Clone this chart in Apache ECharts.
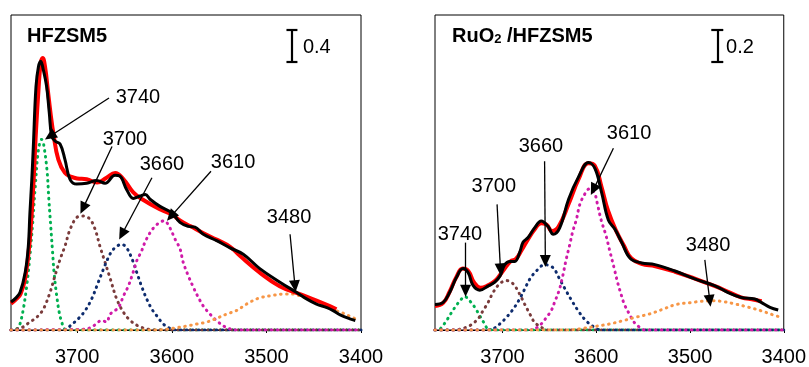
<!DOCTYPE html>
<html><head><meta charset="utf-8">
<script src="https://cdn.jsdelivr.net/npm/echarts@6/dist/echarts.min.js"></script>
<style>html,body{margin:0;padding:0;background:#fff}#c{width:809px;height:367px}</style>
</head><body><div id="c"></div>
<script>
// ---------- data ----------
const xTicks = [3700, 3600, 3500, 3400];
const panelTitles = ['HFZSM5', 'RuO2 /HFZSM5'];
const scaleLabels = ['0.4', '0.2'];
const peakLabels = ['3740', '3700', '3660', '3610', '3480'];

// Left panel: HFZSM5  [wavenumber, absorbance]
const hfExp = [[3770,0.35],[3765,0.40],[3760.5,0.47],[3755,0.72],[3751.7,1.05],[3750,1.47],[3748,1.89],[3746.4,2.30],[3743.6,3.05],[3741,3.30],[3738.6,3.37],[3735.8,3.26],[3732.3,3.05],[3729.5,2.72],[3727,2.43],[3723.5,2.37],[3718,2.33],[3713,2.14],[3707.6,1.89],[3700.6,1.83],[3690,1.84],[3679.4,1.875],[3670.6,1.84],[3660,1.94],[3655,1.93],[3647.7,1.76],[3640.7,1.65],[3633.6,1.68],[3628,1.70],[3623,1.64],[3612.5,1.55],[3600,1.47],[3591.4,1.35],[3582.6,1.30],[3575.5,1.29],[3566.7,1.20],[3552.6,1.12],[3538.5,1.03],[3524.5,0.95],[3507,0.77],[3485.7,0.60],[3468,0.47],[3457.5,0.39],[3447,0.325],[3436,0.28],[3429,0.24],[3422,0.19],[3411.7,0.14],[3406,0.12]];
const hfFit = [[3770,0.33],[3765,0.38],[3760,0.45],[3755,0.65],[3750,1.15],[3746,1.9],[3744,2.4],[3741,3.0],[3738.5,3.35],[3736.5,3.41],[3734,3.3],[3731,3.0],[3728,2.7],[3725,2.45],[3720,2.14],[3713,1.97],[3706,1.92],[3700,1.90],[3690,1.89],[3679,1.85],[3669,1.91],[3660,1.97],[3651,1.89],[3641,1.73],[3630,1.63],[3612,1.51],[3600,1.45],[3591,1.37],[3580,1.30],[3566,1.21],[3552,1.13],[3538,1.04],[3528,0.93],[3507,0.72],[3486,0.55],[3464.5,0.45],[3447,0.37],[3433,0.30],[3426,0.26]];
const hfG3740 = [[3770,0],[3763,0.02],[3760.5,0.075],[3757,0.26],[3753.4,0.55],[3750,0.93],[3747,1.35],[3744.6,1.76],[3741,2.26],[3737.6,2.39],[3735.8,2.35],[3732,2.01],[3730,1.64],[3728,1.30],[3726,0.97],[3724.5,0.72],[3721.7,0.43],[3719,0.22],[3716.4,0.10],[3713,0.01],[3705,0],[3400,0]];
const hfG3700 = [[3770,0],[3758.7,0.03],[3750,0.10],[3742.8,0.16],[3735.9,0.26],[3728.8,0.47],[3723.5,0.68],[3718,0.89],[3713,1.05],[3707.6,1.26],[3700.6,1.41],[3693.6,1.43],[3686.5,1.39],[3681,1.26],[3676,1.05],[3670.6,0.85],[3665,0.64],[3658.3,0.39],[3651,0.22],[3644,0.12],[3635.4,0.05],[3625,0.01],[3615,0],[3400,0]];
const hfG3660 = [[3770,0],[3713,0],[3707.6,0.05],[3699,0.14],[3691.8,0.24],[3684.7,0.39],[3677.7,0.60],[3672.4,0.76],[3667,0.91],[3662,1.01],[3653,1.075],[3647.7,1.03],[3640.7,0.85],[3637,0.72],[3632,0.55],[3626.6,0.39],[3621,0.26],[3616,0.18],[3609,0.075],[3602,0.02],[3595,0],[3400,0]];
const hfG3610 = [[3770,0],[3691,0.01],[3683,0.05],[3674,0.12],[3669,0.10],[3665,0.20],[3656.6,0.28],[3651,0.43],[3646,0.55],[3641,0.72],[3637,0.87],[3632,0.99],[3628.4,1.10],[3623,1.22],[3617.8,1.30],[3612.5,1.35],[3608,1.37],[3602,1.28],[3596.6,1.14],[3591.4,1.02],[3588,0.85],[3582.6,0.68],[3577,0.53],[3572,0.41],[3566.7,0.30],[3559.7,0.20],[3551,0.10],[3542,0.03],[3532,0],[3400,0]];
const hfG3480 = [[3770,0],[3620,0],[3605,0.01],[3595,0.03],[3584,0.05],[3573.7,0.075],[3563,0.10],[3552.6,0.146],[3542,0.20],[3531.4,0.245],[3521,0.325],[3508,0.40],[3495,0.43],[3482,0.45],[3471.6,0.45],[3461,0.41],[3452,0.37],[3443.4,0.325],[3434.6,0.28],[3425.7,0.24],[3418.7,0.21],[3406,0.14]];

// Right panel: RuO2/HFZSM5
const ruExp = [[3772,0.16],[3763.3,0.173],[3756.4,0.235],[3749.1,0.33],[3742.1,0.385],[3736.7,0.36],[3731.4,0.28],[3724.2,0.25],[3715.5,0.275],[3708.2,0.30],[3702.5,0.34],[3697.6,0.41],[3692.2,0.43],[3686.9,0.43],[3681.7,0.486],[3678.1,0.55],[3672.7,0.58],[3665.8,0.64],[3658.6,0.683],[3651.5,0.65],[3645.9,0.60],[3639,0.64],[3629.5,0.82],[3618.9,0.96],[3608.3,1.05],[3601.2,1.01],[3594.2,0.86],[3587.1,0.69],[3579.9,0.63],[3572.9,0.55],[3563.9,0.45],[3551.6,0.42],[3537.4,0.41],[3516,0.37],[3494.9,0.32],[3473.3,0.277],[3459.4,0.235],[3445.3,0.204],[3431,0.194],[3424,0.173],[3414.7,0.142],[3405.9,0.125]];
const ruFit = [[3772,0.15],[3763.3,0.17],[3756.4,0.24],[3749.4,0.33],[3742.4,0.385],[3736.5,0.37],[3730.5,0.30],[3723.5,0.265],[3715.5,0.28],[3707.5,0.31],[3699.6,0.37],[3691.6,0.43],[3685.7,0.445],[3679.7,0.50],[3672.7,0.57],[3665.8,0.63],[3658.9,0.67],[3653,0.66],[3647,0.62],[3640,0.65],[3629.5,0.79],[3618.5,0.95],[3608.5,1.045],[3601.5,1.03],[3594.5,0.90],[3587.5,0.75],[3578.6,0.62],[3570.6,0.53],[3562.7,0.45],[3551.8,0.415],[3536.9,0.40],[3516,0.365],[3494.2,0.32],[3473.3,0.275],[3459.4,0.24],[3445.5,0.205],[3431.5,0.19],[3423.6,0.18]];
const ruG3740 = [[3772,0],[3768.3,0],[3765,0.017],[3759.8,0.058],[3754.3,0.11],[3749.1,0.156],[3743.8,0.194],[3740.4,0.21],[3735,0.183],[3729.5,0.142],[3724.3,0.09],[3719,0.0375],[3715.5,0.006],[3708,0],[3400,0]];
const ruG3700 = [[3772,0],[3752.5,0],[3745.5,0.005],[3735,0.027],[3726.2,0.069],[3720.9,0.12],[3715.6,0.17],[3710.1,0.235],[3703,0.29],[3695.9,0.31],[3688.7,0.29],[3681.7,0.225],[3676.4,0.1625],[3670.8,0.10],[3665.8,0.048],[3658.6,0.017],[3653,0],[3400,0]];
const ruG3660 = [[3772,0],[3717.5,0],[3710.6,0.006],[3703,0.0375],[3695.7,0.08],[3688.7,0.13],[3681.8,0.194],[3676.4,0.256],[3670.8,0.32],[3663.9,0.37],[3655,0.41],[3646,0.39],[3639.1,0.32],[3632.2,0.246],[3625,0.173],[3618,0.11],[3610.9,0.058],[3602,0.017],[3595.5,0],[3400,0]];
const ruG3610 = [[3772,0],[3673,0],[3666,0.006],[3658.7,0.0375],[3651.7,0.09],[3648.1,0.12],[3644.5,0.173],[3639.2,0.256],[3635.7,0.34],[3632.2,0.44],[3628.6,0.527],[3625,0.62],[3621.3,0.69],[3617.9,0.78],[3614.3,0.83],[3607.3,0.885],[3602,0.86],[3598.4,0.78],[3594.8,0.69],[3589.5,0.59],[3586,0.506],[3580.6,0.38],[3577.2,0.298],[3573.6,0.225],[3570.1,0.1625],[3564.7,0.10],[3559.5,0.048],[3553.8,0.017],[3548.8,0],[3400,0]];
const ruG3480 = [[3772,0],[3628.5,0],[3614.5,0.01],[3600.5,0.023],[3586.2,0.0375],[3571.8,0.058],[3557.8,0.08],[3543.5,0.10],[3529,0.13],[3515,0.16],[3499.2,0.172],[3488,0.18],[3477.5,0.183],[3466.6,0.18],[3451.4,0.1625],[3437.2,0.142],[3422.8,0.118],[3410.6,0.093],[3403,0.08]];

// annotation anchors (data coords): label centre, arrow start, arrow tip
const hfLabelPos = [[3635.8,2.91],[3649.5,2.39],[3610.4,2.075],[3535.3,2.10],[3476,1.41]];
const hfArrows = [[[3666.4,2.91],[3728.8,2.43]],[[3663.2,2.30],[3693.9,1.525]],[[3621,1.91],[3652.7,1.20]],[[3558.6,1.99],[3600.9,1.425]],[[3475,1.20],[3469.8,0.55]]];
const ruLabelPos = [[3745.4,0.60],[3709.3,0.90],[3659,1.15],[3565,1.235],[3480.7,0.53]];
const ruArrows = [[[3739.4,0.548],[3739.4,0.246]],[[3705.8,0.7875],[3702.2,0.38]],[[3655.1,1.058],[3654.3,0.433]],[[3581.7,1.14],[3603,0.88]],[[3484.2,0.44],[3478.9,0.183]]];
// scale bars: [x, yLow, yHigh]
const hfScale = [3473, 3.3625, 3.7625];
const ruScale = [3470.9, 1.68125, 1.88125];
const hfScaleText = [3461.4, 3.54];
const ruScaleText = [3461.6, 1.77];

// ---------- styling ----------
const FONT = 'Liberation Sans, Arial, sans-serif';
const gColors = ['#00B050', '#7A3B3B', '#0E2C6E', '#D01AA8', '#F79646'];
const chart = echarts.init(document.getElementById('c'), null, {renderer: 'canvas'});

function xAxis(gi, max) {
  return {
    gridIndex: gi, type: 'value', inverse: true, min: 3400, max: max, interval: 100,
    axisLine: {show: true, onZero: false, lineStyle: {color: '#000', width: 1}},
    axisTick: {show: true, length: 3, customValues: xTicks, lineStyle: {color: '#000', width: 1}},
    axisLabel: {customValues: xTicks, fontSize: 20, color: '#000', fontFamily: FONT, margin: 17,
      formatter: v => String(v)},
    splitLine: {show: false}
  };
}
function yAxis(gi, max) {
  return {gridIndex: gi, type: 'value', min: 0, max: max, show: false, splitLine: {show: false}};
}
function dotted(gi, data, color) {
  return {
    type: 'line', xAxisIndex: gi, yAxisIndex: gi, data: data, showSymbol: false, smooth: 0.35,
    silent: true, z: 2,
    lineStyle: {color: color, width: 3, type: [0.6, 5.4], cap: 'round'}
  };
}
function annotations(labels, labelPos, arrows, scale, scaleText, scaleLabel, capHalf) {
  const lines = arrows.map(a => [{coord: a[0]}, {coord: a[1]}]);
  const bar = [
    [{coord: [scale[0], scale[1]], symbol: 'none'}, {coord: [scale[0], scale[2]], symbol: 'none'}],
    [{coord: [scale[0] - capHalf, scale[1]], symbol: 'none'}, {coord: [scale[0] + capHalf, scale[1]], symbol: 'none'}],
    [{coord: [scale[0] - capHalf, scale[2]], symbol: 'none'}, {coord: [scale[0] + capHalf, scale[2]], symbol: 'none'}]
  ];
  return {
    markLine: {
      silent: true, animation: false, symbol: ['none', 'triangle'], symbolSize: [11, 12],
      label: {show: false},
      lineStyle: {color: '#000', width: 1.3, type: 'solid'},
      data: lines.concat(bar.map(b => [{...b[0], lineStyle: {width: 2.2}}, b[1]]))
    },
    markPoint: {
      silent: true, animation: false, symbol: 'circle', symbolSize: 0,
      data: labels.map((t, i) => ({name: t, coord: labelPos[i]})).concat([
        {name: scaleLabel, coord: scaleText, label: {align: 'left', position: 'inside'}}
      ]),
      label: {show: true, position: 'inside', formatter: '{b}', color: '#000', fontSize: 20, fontFamily: FONT}
    }
  };
}

const series = [];
[hfG3740, hfG3700, hfG3660, hfG3610, hfG3480].forEach((d, i) => series.push(dotted(0, d, gColors[i])));
[ruG3740, ruG3700, ruG3660, ruG3610, ruG3480].forEach((d, i) => series.push(dotted(1, d, gColors[i])));
series.push({type: 'line', xAxisIndex: 0, yAxisIndex: 0, data: hfFit, showSymbol: false, smooth: 0.45, z: 3, lineStyle: {color: '#FF0000', width: 4}});
series.push({type: 'line', xAxisIndex: 1, yAxisIndex: 1, data: ruFit, showSymbol: false, smooth: 0.45, z: 3, lineStyle: {color: '#FF0000', width: 4}});
series.push(Object.assign({type: 'line', xAxisIndex: 0, yAxisIndex: 0, data: hfExp, showSymbol: false, smooth: 0.4, z: 4, lineStyle: {color: '#000', width: 3}},
  annotations(peakLabels, hfLabelPos, hfArrows, hfScale, hfScaleText, scaleLabels[0], 5.8)));
series.push(Object.assign({type: 'line', xAxisIndex: 1, yAxisIndex: 1, data: ruExp, showSymbol: false, smooth: 0.4, z: 4, lineStyle: {color: '#000', width: 3}},
  annotations(peakLabels, ruLabelPos, ruArrows, ruScale, ruScaleText, scaleLabels[1], 6.4)));

chart.setOption({
  animation: false,
  backgroundColor: '#fff',
  grid: [
    {left: 11, top: 15, width: 350, height: 316, show: true, borderColor: '#000', borderWidth: 1, backgroundColor: 'transparent'},
    {left: 435, top: 15, width: 350, height: 316, show: true, borderColor: '#000', borderWidth: 1, backgroundColor: 'transparent'}
  ],
  xAxis: [xAxis(0, 3770), xAxis(1, 3772)],
  yAxis: [yAxis(0, 3.95), yAxis(1, 1.975)],
  graphic: [
    {type: 'text', left: 27, top: 26, style: {text: panelTitles[0], font: 'bold 20px ' + FONT, fill: '#000'}},
    {type: 'text', left: 452, top: 26, style: {
      text: '{a|RuO}{s|2}{a| /HFZSM5}',
      rich: {a: {font: 'bold 20px ' + FONT, fill: '#000', verticalAlign: 'bottom'}, s: {font: 'bold 13px ' + FONT, fill: '#000', padding: [8, 0, 0, 0], verticalAlign: 'bottom'}}
    }}
  ],
  series: series
});
</script></body></html>
